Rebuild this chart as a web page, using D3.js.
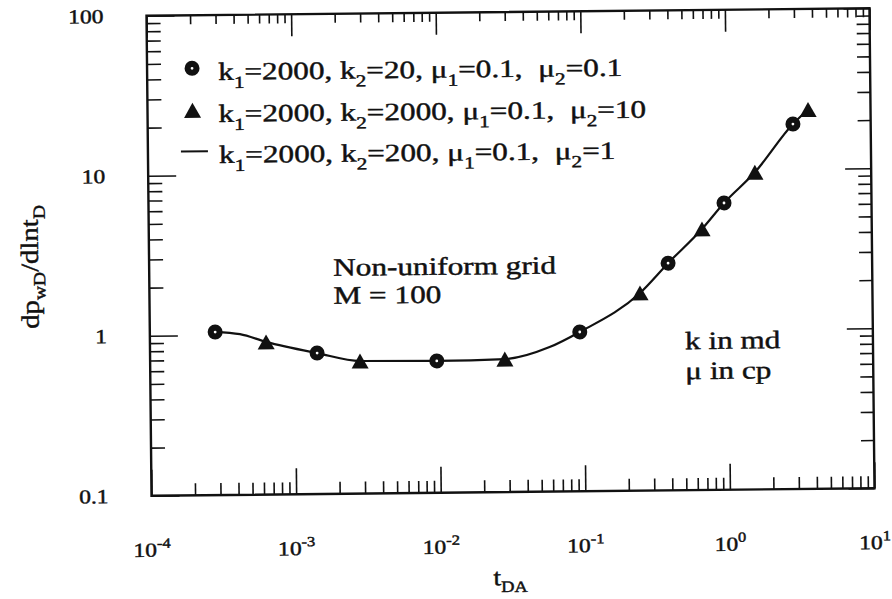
<!DOCTYPE html>
<html><head><meta charset="utf-8">
<script src="https://cdn.jsdelivr.net/npm/d3@7"></script>
<style>body{margin:0;background:#fff} svg{display:block} text{font-family:"Liberation Serif","Times New Roman",serif;fill:#111;stroke:#111;stroke-width:0.45;white-space:pre}</style>
</head><body>
<svg id="chart" width="892" height="599"></svg>
<script>
// ---- data ----
const circleT = [2.83e-4, 1.43e-3, 9.6e-3, 0.094, 0.388, 0.955, 2.9];
const circleY = [1.045, 0.76, 0.667, 0.99, 2.63, 6.2, 19.1];
const triT = [6.36e-4, 2.83e-3, 0.0284, 0.247, 0.67, 1.57, 3.7];
const triY = [0.90, 0.674, 0.678, 1.72, 4.28, 9.6, 23.5];
const lineT = [2.83e-4, 4.2e-4, 6.36e-4, 1.43e-3, 2.83e-3, 9.6e-3, 0.0284, 0.058, 0.094, 0.247, 0.388, 0.67, 0.955, 1.57, 2.9, 3.7];
const lineY = [1.045, 1.01, 0.90, 0.76, 0.674, 0.667, 0.678, 0.80, 0.99, 1.72, 2.63, 4.28, 6.2, 9.6, 19.1, 23.5];
const xMajor = [1e-4, 1e-3, 1e-2, 1e-1, 1, 10];
const xExp = ["-4", "-3", "-2", "-1", "0", "1"];
const yMajor = [0.1, 1, 10, 100];
const yLabels = ["0.1", "1", "10", "100"];
const legendLabels = [
  "k_1=2000, k_2=20, μ_1=0.1,  μ_2=0.1",
  "k_1=2000, k_2=2000, μ_1=0.1,  μ_2=10",
  "k_1=2000, k_2=200, μ_1=0.1,  μ_2=1"
];
const legendKinds = ["circle", "triangle", "line"];
const notes1 = ["Non-uniform grid", "M = 100"];
const notes2 = ["k in md", "μ in cp"];

// ---- layout ----
const L = 149, R = 872, T = 12, B = 492;
const svg = d3.select("#chart");
const g = svg.append("g").attr("transform", "rotate(-0.6,510.5,252)");
const x = d3.scaleLog().domain([1e-4, 10]).range([L, R]);
const y = d3.scaleLog().domain([0.1, 100]).range([B, T]);

const xMinor = x.ticks().filter(v => !xMajor.some(m => Math.abs(m - v) / m < 1e-6));
const yMinor = y.ticks().filter(v => !yMajor.some(m => Math.abs(m - v) / m < 1e-6));

function axisStyle(sel) {
  sel.select(".domain").remove();
  sel.selectAll("line").attr("stroke", "#111").attr("stroke-width", 1.6);
  sel.selectAll("text").remove();
}
const MAJ = 26, MIN = 12;
g.append("g").attr("transform", `translate(0,${B})`).call(d3.axisBottom(x).tickValues(xMajor).tickSize(-MAJ)).call(axisStyle);
g.append("g").attr("transform", `translate(0,${B})`).call(d3.axisBottom(x).tickValues(xMinor).tickSize(-MIN)).call(axisStyle);
g.append("g").attr("transform", `translate(0,${T})`).call(d3.axisTop(x).tickValues(xMajor).tickSize(-MAJ + 4)).call(axisStyle);
g.append("g").attr("transform", `translate(0,${T})`).call(d3.axisTop(x).tickValues(xMinor).tickSize(-9)).call(axisStyle);
g.append("g").attr("transform", `translate(${L},0)`).call(d3.axisLeft(y).tickValues(yMajor).tickSize(-MAJ - 2)).call(axisStyle);
g.append("g").attr("transform", `translate(${L},0)`).call(d3.axisLeft(y).tickValues(yMinor).tickSize(-14)).call(axisStyle);
g.append("g").attr("transform", `translate(${R},0)`).call(d3.axisRight(y).tickValues(yMajor).tickSize(-MAJ)).call(axisStyle);
g.append("g").attr("transform", `translate(${R},0)`).call(d3.axisRight(y).tickValues(yMinor).tickSize(-13)).call(axisStyle);

g.append("rect").attr("x", L).attr("y", T).attr("width", R - L).attr("height", B - T)
  .attr("fill", "none").attr("stroke", "#111").attr("stroke-width", 2.4);

// stretched text helper
function stext(parent, px, py, size, sx, anchor) {
  return parent.append("text")
    .attr("transform", `translate(${px},${py}) scale(${sx},1)`)
    .attr("font-size", size).attr("text-anchor", anchor || "start");
}
function richText(t, str, subSize, subDy) {
  const parts = str.split(/(_.)/);
  let lowered = false;
  parts.forEach(p => {
    if (!p) return;
    if (p[0] === "_") {
      t.append("tspan").attr("font-size", subSize).attr("dy", subDy).text(p[1]);
      lowered = true;
    } else {
      const ts = t.append("tspan").text(p);
      if (lowered) { ts.attr("dy", -subDy); lowered = false; }
    }
  });
}

// x tick labels
xMajor.forEach((v, i) => {
  const t = stext(g, x(v), 553, 20, 1.18, "middle");
  t.append("tspan").text("10");
  t.append("tspan").attr("font-size", 14).attr("dy", -9).text(xExp[i]);
});
// y tick labels
yMajor.forEach((v, i) => {
  stext(g, 106, y(v) + 7, 20, 1.18, "end").text(yLabels[i]);
});
// axis titles
{
  const t = stext(g, 490, 585, 24, 1.15, "start");
  t.append("tspan").text("t");
  t.append("tspan").attr("font-size", 16).attr("dy", 7).text("DA");
}
{
  const t = g.append("text").attr("transform", "translate(38,262) rotate(-90) scale(1.15,1)")
    .attr("font-size", 25).attr("text-anchor", "middle");
  t.append("tspan").text("dp");
  t.append("tspan").attr("font-size", 17).attr("dy", 7).text("wD");
  t.append("tspan").attr("dy", -7).text("/dlnt");
  t.append("tspan").attr("font-size", 17).attr("dy", 7).text("D");
}

// curve
const pts = lineT.map((t, i) => [t, lineY[i]]);
g.append("path").datum(pts)
  .attr("d", d3.line().x(d => x(d[0])).y(d => y(d[1])).curve(d3.curveMonotoneX))
  .attr("fill", "none").attr("stroke", "#111").attr("stroke-width", 2.2);

function triPath(cx, cy) {
  const w = 17, h = 15;
  return `M${cx},${cy - h / 2}L${cx + w / 2},${cy + h / 2}L${cx - w / 2},${cy + h / 2}Z`;
}
function drawCircle(cx, cy) {
  g.append("circle").attr("cx", cx).attr("cy", cy).attr("r", 7.5).attr("fill", "#111");
  g.append("circle").attr("cx", cx).attr("cy", cy).attr("r", 1.4).attr("fill", "#fff");
}
circleT.forEach((t, i) => drawCircle(x(t), y(circleY[i])));
triT.forEach((t, i) => {
  g.append("path").attr("d", triPath(x(t), y(triY[i]))).attr("fill", "#111");
});

// legend
const legBase = [77, 119, 160];
legendLabels.forEach((s, i) => {
  const my = legBase[i] - 12;
  if (legendKinds[i] === "circle") drawCircle(194, my);
  else if (legendKinds[i] === "triangle") g.append("path").attr("d", triPath(194, my)).attr("fill", "#111");
  else g.append("line").attr("x1", 182).attr("x2", 209).attr("y1", my).attr("y2", my).attr("stroke", "#111").attr("stroke-width", 2);
  const t = stext(g, 220, legBase[i], 25, 1.25, "start");
  richText(t, s, 17, 8);
});

// notes
notes1.forEach((s, i) => stext(g, 333, 274 + i * 28, 25, 1.25).text(s));
notes2.forEach((s, i) => stext(g, 684, 351 + i * 30, 25, 1.25).text(s));
</script>
</body></html>
